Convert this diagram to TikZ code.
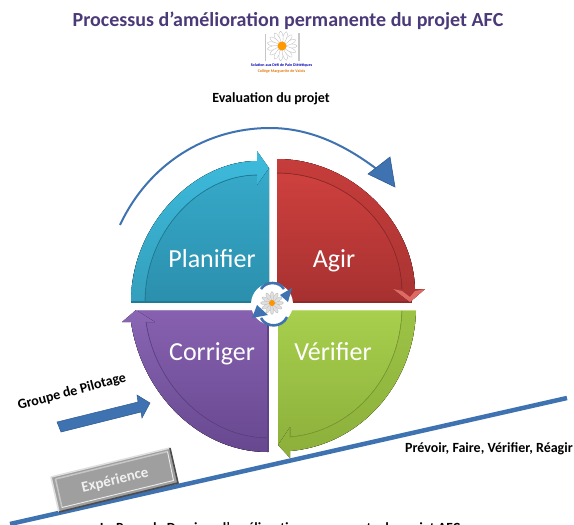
\documentclass[tikz,border=0pt]{standalone}
\usepackage{fontspec}
\setmainfont{Carlito}
\usetikzlibrary{calc}
\definecolor{titlec}{HTML}{4B3A78}
\definecolor{bluec}{HTML}{3F72B0}
\definecolor{bluedk}{HTML}{2F5C94}
\definecolor{cyT}{HTML}{37ABCB}\definecolor{cyB}{HTML}{2B8FAD}\definecolor{cyL}{HTML}{3DBBDD}\definecolor{cyD}{HTML}{1F7B96}
\definecolor{reT}{HTML}{D24240}\definecolor{reB}{HTML}{A63130}\definecolor{reL}{HTML}{C63D3B}\definecolor{reD}{HTML}{8F2A29}\definecolor{reH}{HTML}{DE6A64}
\definecolor{puT}{HTML}{8761B0}\definecolor{puB}{HTML}{67488F}\definecolor{puL}{HTML}{8A66B4}\definecolor{puD}{HTML}{5F4385}
\definecolor{grT}{HTML}{A8CF4D}\definecolor{grB}{HTML}{8CB03B}\definecolor{grL}{HTML}{9CC245}\definecolor{grD}{HTML}{7A9C32}
\tikzset{
  lab/.style={font=\bfseries\fontsize{14}{16}\selectfont,text=black,inner sep=0pt},
  quad/.style={text=white,font=\fontsize{26}{30}\selectfont,inner sep=0pt,anchor=base},
  logotxt/.style={font=\bfseries\fontsize{4}{4}\selectfont,inner sep=0pt},
}
\begin{document}
\begin{tikzpicture}[x=1pt,y=-1pt]
\useasboundingbox (0,0) rectangle (574,525);
\clip (0,0) rectangle (574,525);
% title
\node[font=\bfseries\fontsize{20}{24}\selectfont,text=titlec,inner sep=0pt] (title) at (288,21) {Processus d’amélioration permanente du projet AFC};
% logo
\fill[gray!45] (264.5,34) rectangle (266,61);
\fill[gray!45] (298,33) rectangle (300,61);
\foreach \a in {0,24,...,336} \fill[white,draw=gray!55,line width=.3pt,rotate around={\a:(282,46)}] (291,46) ellipse (6 and 2);
\fill[orange!80!yellow] (282,46) circle (4.5);
\node[logotxt,text=blue!70!black] (logoa) at (281.5,65) {Solution aux Défi de Pain Diététiques};
\node[logotxt,text=orange!90!black] (logob) at (281.5,71) {Collège Marguerite de Valois};
\node[lab] (eval) at (271,98.5) {Evaluation du projet};
% big arc arrow
\draw[bluec,line width=2pt] (120,225) .. controls (148,165) and (205,128) .. (270,128) .. controls (310,128) and (345,145) .. (378,170);
\fill[bluec,draw=bluedk,line width=.6pt] (368,174) -- (390,157) -- (395,187) -- cycle;
% Planifier
\fill[top color=cyT,bottom color=cyB] (269,302) -- (131,302) .. controls (131,224) and (195,161) .. (257,161) -- (269,168) -- cycle;
\fill[top color=cyL,bottom color=cyL!85!black] (131,302) .. controls (131,224) and (195,161) .. (257,161) -- (257,151) -- (269,168) -- (257,185) -- (257,175) .. controls (200,175) and (145,231) .. (145,302) -- cycle;
\draw[cyD,line width=.7pt] (257,175) .. controls (200,175) and (145,231) .. (145,302);
\fill[cyD] (131,300.5) rectangle (269,302.5);
% Agir
\fill[top color=reT,bottom color=reB] (277,302) -- (277,159) .. controls (350,159) and (413,220) .. (415,289) -- (410,302) -- cycle;
\fill[top color=reL,bottom color=reL!85!black] (277,159) .. controls (350,159) and (413,220) .. (415,289) -- (425,289) -- (410,302) -- (393,289) -- (402,289) .. controls (400,225) and (345,173) .. (277,173) -- cycle;
\draw[reD,line width=.7pt] (402,289) .. controls (400,225) and (345,173) .. (277,173);
\fill[reD] (277,300.5) rectangle (412,302.5);
\fill[reH] (425,289) -- (410,302) -- (393,289) -- (402,291) -- (410,297) -- (415,291) -- cycle;
% Corriger
\fill[top color=puT,bottom color=puB] (268,310) -- (136,310) -- (131,322) .. controls (142,395) and (200,452) .. (268,452) -- cycle;
\fill[top color=puL,bottom color=puB] (268,452) .. controls (200,452) and (142,395) .. (131,322) -- (122,322) -- (136,310) -- (155,322) -- (146,322) .. controls (155,385) and (208,438) .. (268,438) -- cycle;
\draw[puD,line width=.7pt] (146,322) .. controls (155,385) and (208,438) .. (268,438);
\fill[puL!80!white] (136,309.5) rectangle (268,311);
\fill[puD] (267,311) rectangle (269,452);
% Verifier
\fill[top color=grT,bottom color=grB] (278,310) -- (416,310) .. controls (414,385) and (360,445) .. (290,451) -- (278,445) -- cycle;
\fill[top color=grL,bottom color=grB] (416,310) .. controls (414,385) and (360,445) .. (290,451) -- (290,458) -- (278,445) -- (290,427) -- (290,437) .. controls (350,432) and (400,380) .. (402,310) -- cycle;
\draw[grD,line width=.7pt] (402,310) .. controls (400,380) and (350,432) .. (290,437) -- (290,427);
\fill[grT!70!white] (278,309.5) rectangle (416,311);
% labels
\node[quad] (plan) at (212,267) {Planifier};
\node[quad] (agir) at (334,267) {Agir};
\node[quad] (corr) at (212,360) {Corriger};
\node[quad] (veri) at (333,360) {Vérifier};
% centre icon
\fill[white] (272,304) circle (21);
\foreach \a in {0,30,...,330} \fill[gray!25,draw=gray!60,line width=.25pt,rotate around={\a:(272,303)}] (278.5,303) ellipse (5 and 1.8);
\fill[orange!85!yellow] (272,303) circle (3);
\draw[bluec,line width=2.6pt] (261,289) .. controls (266,281) and (279,281) .. (284,289);
\draw[bluec,line width=2.6pt] (287,317) .. controls (282,328) and (266,328) .. (261,318);
\fill[bluec] (292,288) -- (288,302) -- (280,295) -- cycle;
\fill[bluec] (252,318) -- (257,305) -- (268,315) -- cycle;
% slope line
\draw[bluec,line width=4.5pt] (10,524) -- (567,398);
% arrow
\fill[bluec,draw=bluedk,line width=.5pt] (57,422) -- (138,402) -- (137,395) -- (150,403) -- (142,418) -- (141,412) -- (61,432) -- cycle;
\node[lab,rotate=15] (groupe) at (72,392) {Groupe de Pilotage};
\node[lab,anchor=east] (prev) at (573,449) {Prévoir, Faire, Vérifier, Réagir};
% experience box
\fill[gray!75] (51,477) -- (170,448) -- (178,483) -- (59,512) -- cycle;
\draw[gray!25,line width=1.6pt] (51,477) -- (170,448);
\draw[gray!25,line width=1.6pt] (51,477) -- (59,512);
\draw[black!70,line width=1.6pt] (170,448) -- (178,483) -- (59,512);
\draw[gray!45,line width=1.5pt] (55.5,479) -- (167.5,451.5);
\draw[gray!45,line width=1.5pt] (55.5,479) -- (62,507.5);
\draw[white!85!gray,line width=.9pt] (62,507.5) -- (173.5,480.5) -- (167.5,451.5);
\node[text=white!88!gray,font=\bfseries\fontsize{15}{18}\selectfont,rotate=13.7,inner sep=0pt] (exper) at (115,480.5) {Expérience};
% bottom text
\node[lab,anchor=west] (bas) at (100,529) {La Roue de Deming : l’amélioration permanente du projet AFC};
\end{tikzpicture}
\end{document}
